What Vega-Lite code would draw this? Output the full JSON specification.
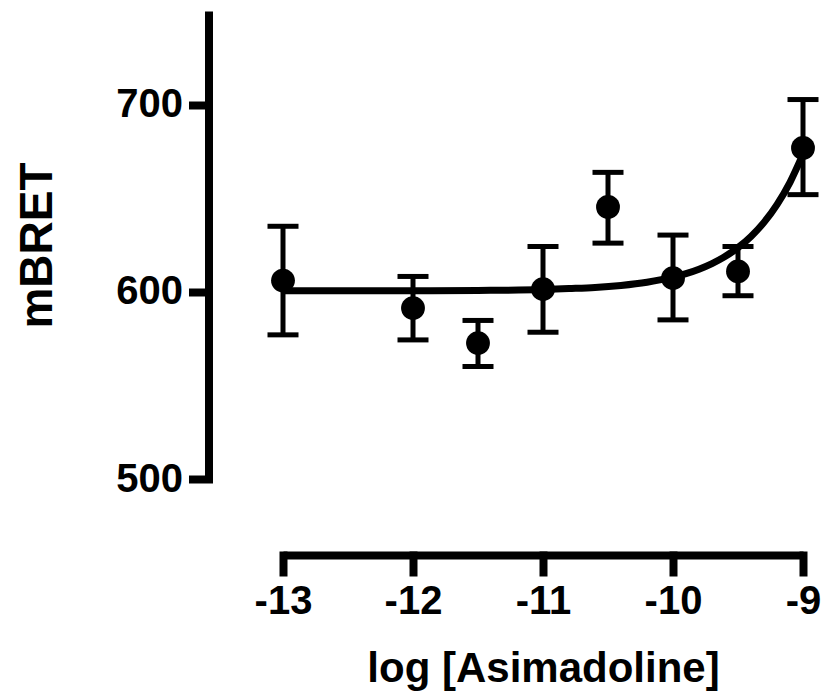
{
  "$schema": "https://vega.github.io/schema/vega-lite/v6.json",
  "width": 520,
  "height": 468,
  "autosize": {"type": "none"},
  "padding": {"left": 283, "top": 11, "right": 26, "bottom": 217},
  "background": "white",
  "datasets": {
    "points": [
      {"x": -13, "y": 606, "lo": 577, "hi": 635},
      {"x": -12, "y": 591.3, "lo": 574.3, "hi": 608.2},
      {"x": -11.5, "y": 572.6, "lo": 560.1, "hi": 584.7},
      {"x": -11, "y": 601.4, "lo": 578.4, "hi": 624.2},
      {"x": -10.5, "y": 645.3, "lo": 626, "hi": 663.8},
      {"x": -10, "y": 607.3, "lo": 585, "hi": 630.3},
      {"x": -9.5, "y": 610.9, "lo": 597.9, "hi": 624.2},
      {"x": -9, "y": 676.8, "lo": 651.9, "hi": 702.7}
    ],
    "curve": [
      {"x": -13, "y": 600.5},
      {"x": -12.5, "y": 600.5},
      {"x": -12, "y": 600.5},
      {"x": -11.5, "y": 600.7},
      {"x": -11, "y": 601.2},
      {"x": -10.8, "y": 601.7},
      {"x": -10.6, "y": 602.3},
      {"x": -10.4, "y": 603.4},
      {"x": -10.2, "y": 605.1},
      {"x": -10, "y": 607.8},
      {"x": -9.9, "y": 609.7},
      {"x": -9.8, "y": 612.1},
      {"x": -9.7, "y": 615.1},
      {"x": -9.6, "y": 618.8},
      {"x": -9.5, "y": 623.6},
      {"x": -9.4, "y": 629.6},
      {"x": -9.3, "y": 637.1},
      {"x": -9.2, "y": 646.6},
      {"x": -9.1, "y": 658.5},
      {"x": -9, "y": 673.5}
    ]
  },
  "config": {
    "view": {"stroke": null},
    "axis": {
      "grid": false,
      "domainColor": "black",
      "domainWidth": 8,
      "domainCap": "butt",
      "tickColor": "black",
      "tickWidth": 8,
      "tickCap": "square",
      "labelFont": "Liberation Sans",
      "labelFontWeight": "bold",
      "labelFontSize": 40,
      "labelColor": "black",
      "titleFont": "Liberation Sans",
      "titleFontWeight": "bold",
      "titleFontSize": 42,
      "titleColor": "black"
    }
  },
  "encoding": {
    "x": {
      "field": "x",
      "type": "quantitative",
      "title": "log [Asimadoline]",
      "scale": {"domain": [-13, -9], "nice": false, "zero": false},
      "axis": {
        "values": [-13, -12, -11, -10, -9],
        "labelExpr": "'' + datum.value",
        "offset": 76,
        "tickSize": 17,
        "labelPadding": 9,
        "titlePadding": 27,
        "labelFlush": false,
        "labelOverlap": false
      }
    }
  },
  "layer": [
    {
      "data": {"name": "points"},
      "mark": {"type": "rule", "color": "black", "strokeWidth": 5},
      "encoding": {
        "y": {
          "field": "lo",
          "type": "quantitative",
          "title": "mBRET",
          "scale": {"domain": [500, 750], "nice": false, "zero": false},
          "axis": {
            "values": [500, 600, 700],
            "offset": 74.5,
            "tickSize": 16,
            "labelPadding": 10,
            "titlePadding": 54,
            "titleFontSize": 46
          }
        },
        "y2": {"field": "hi"}
      }
    },
    {
      "data": {"name": "points"},
      "mark": {"type": "tick", "color": "black", "opacity": 1, "thickness": 5, "size": 31, "orient": "horizontal"},
      "encoding": {
        "y": {"field": "lo", "type": "quantitative", "title": "mBRET"}
      }
    },
    {
      "data": {"name": "points"},
      "mark": {"type": "tick", "color": "black", "opacity": 1, "thickness": 5, "size": 31, "orient": "horizontal"},
      "encoding": {
        "y": {"field": "hi", "type": "quantitative", "title": "mBRET"}
      }
    },
    {
      "data": {"name": "curve"},
      "mark": {"type": "line", "color": "black", "strokeWidth": 7, "interpolate": "monotone"},
      "encoding": {
        "y": {"field": "y", "type": "quantitative", "title": "mBRET"}
      }
    },
    {
      "data": {"name": "points"},
      "mark": {"type": "point", "shape": "circle", "filled": true, "color": "black", "opacity": 1, "size": 570},
      "encoding": {
        "y": {"field": "y", "type": "quantitative", "title": "mBRET"}
      }
    }
  ]
}
